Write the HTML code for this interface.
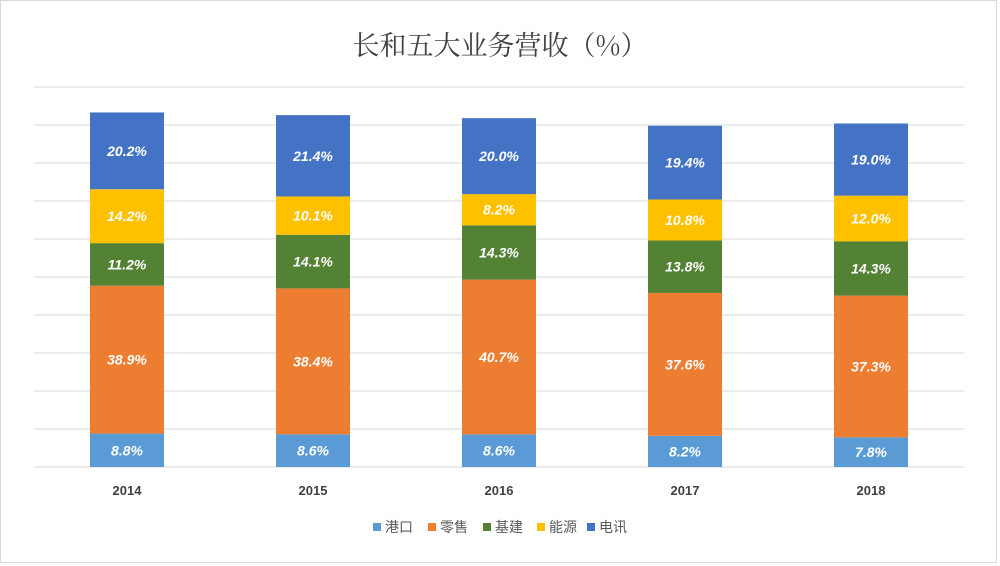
<!DOCTYPE html>
<html><head><meta charset="utf-8"><style>
body{margin:0;background:#fff;}
#c{position:relative;width:1000px;height:566px;overflow:hidden;}
text{font-family:"Liberation Sans","Noto Sans CJK SC",sans-serif;}
</style></head><body>
<div id="c">
<svg id="s" width="1000" height="566" xmlns="http://www.w3.org/2000/svg">
<rect x="0.5" y="0.5" width="996" height="562" fill="#fff" stroke="#d9d9d9"/>
<text x="500" y="55" text-anchor="middle" font-size="27" fill="#404040" style="font-family:'Noto Serif CJK SC','Noto Sans CJK SC',serif">长和五大业务营收（%）</text>
</svg>
</div>
<script>
const categories=["2014","2015","2016","2017","2018"];
const seriesNames=["港口","零售","基建","能源","电讯"];
const seriesColors=["#5B9BD5","#ED7D31","#548235","#FFC000","#4472C4"];
const portVals=[8.8,8.6,8.6,8.2,7.8];
const retailVals=[38.9,38.4,40.7,37.6,37.3];
const infraVals=[11.2,14.1,14.3,13.8,14.3];
const energyVals=[14.2,10.1,8.2,10.8,12.0];
const telecomVals=[20.2,21.4,20.0,19.4,19.0];
const yTicks=[0,10,20,30,40,50,60,70,80,90,100];
const series=[portVals,retailVals,infraVals,energyVals,telecomVals];
const svg=document.getElementById('s');
const NS="http://www.w3.org/2000/svg";
const x0=34,x1=964,yBase=467,pxPer=3.8,barW=74;
const band=(x1-x0)/categories.length;
const yScale=v=>yBase-v*pxPer;
const xCenter=i=>x0+band*(i+0.5);
function el(t,a){const e=document.createElementNS(NS,t);for(const k in a)e.setAttribute(k,a[k]);svg.appendChild(e);return e;}
yTicks.forEach(t=>{
const l=el('line',{x1:x0,x2:x1,y1:yScale(t),y2:yScale(t),stroke:'#d9d9d9','stroke-width':1});


});
categories.forEach((c,i)=>{
let cum=0;
series.forEach((vals,si)=>{
const v=vals[i];
const r=el('rect',{x:xCenter(i)-barW/2,y:yScale(cum+v),width:barW,height:v*pxPer,fill:seriesColors[si]});


const t=el('text',{x:xCenter(i),y:yScale(cum+v/2)+5,'text-anchor':'middle','font-size':14,'font-weight':'bold','font-style':'italic',fill:'#fff'});
t.textContent=v.toFixed(1)+'%';


cum+=v;
});
const ct=el('text',{x:xCenter(i),y:495,'text-anchor':'middle','font-size':13,'font-weight':'bold',fill:'#404040'});
ct.textContent=c;


});
const legX=[373,428,483,537,587];
seriesNames.forEach((n,i)=>{
const r=el('rect',{x:legX[i],y:523,width:8,height:8,fill:seriesColors[i]});


const t=el('text',{x:legX[i]+12,y:532,'font-size':14,fill:'#595959'});
t.textContent=n;


});
</script>
</body></html>
